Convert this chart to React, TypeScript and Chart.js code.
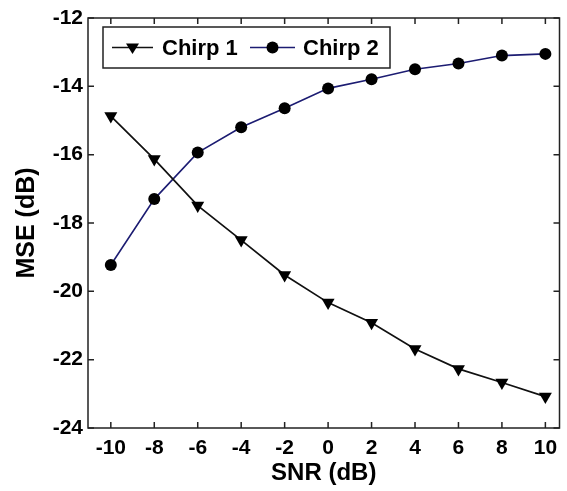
import React, { useEffect, useRef } from "react";
import { Chart, registerables } from "chart.js";

Chart.register(...registerables);

const SNR = [-10, -8, -6, -4, -2, 0, 2, 4, 6, 8, 10];
const CHIRP1 = [-14.87, -16.13, -17.49, -18.5, -19.52, -20.33, -20.92, -21.69, -22.27, -22.67, -23.08];
const CHIRP2 = [-19.23, -17.3, -15.94, -15.2, -14.64, -14.06, -13.79, -13.5, -13.33, -13.1, -13.05];
const X_TICKS = [-10, -8, -6, -4, -2, 0, 2, 4, 6, 8, 10];
const Y_TICKS = [-24, -22, -20, -18, -16, -14, -12];
const SERIES_NAMES = ["Chirp 1", "Chirp 2"];
const X_TITLE = "SNR (dB)";
const Y_TITLE = "MSE (dB)";

const FONT = "'Liberation Sans', Arial, sans-serif";
const C1 = "#111111";
const C2 = "#1c1c72";

function drawTri(ctx: CanvasRenderingContext2D, x: number, y: number, r: number) {
  ctx.beginPath();
  ctx.moveTo(x - r, y - r * 0.6);
  ctx.lineTo(x + r, y - r * 0.6);
  ctx.lineTo(x, y + r);
  ctx.closePath();
  ctx.fill();
}

const framePlugin = {
  id: "frame",
  afterDraw(chart: any) {
    const { ctx, chartArea: a, scales } = chart;
    ctx.save();
    ctx.strokeStyle = "#222";
    ctx.lineWidth = 1.5;
    ctx.strokeRect(a.left, a.top, a.right - a.left, a.bottom - a.top);
    const tl = 6;
    ctx.beginPath();
    for (const v of X_TICKS) {
      const px = scales.x.getPixelForValue(v);
      ctx.moveTo(px, a.bottom);
      ctx.lineTo(px, a.bottom - tl);
      ctx.moveTo(px, a.top);
      ctx.lineTo(px, a.top + tl);
    }
    for (const v of Y_TICKS) {
      const py = scales.y.getPixelForValue(v);
      ctx.moveTo(a.left, py);
      ctx.lineTo(a.left + tl, py);
      ctx.moveTo(a.right, py);
      ctx.lineTo(a.right - tl, py);
    }
    ctx.stroke();

    // legend
    const bx = a.left + 15;
    const by = a.top + 9;
    const bw = 287;
    const bh = 41;
    ctx.fillStyle = "#fff";
    ctx.fillRect(bx, by, bw, bh);
    ctx.lineWidth = 1.5;
    ctx.strokeStyle = "#222";
    ctx.strokeRect(bx, by, bw, bh);
    const cy = by + bh / 2;
    ctx.font = `bold 22px ${FONT}`;
    ctx.textBaseline = "middle";
    ctx.textAlign = "left";
    // item 1
    ctx.strokeStyle = C1;
    ctx.lineWidth = 1.5;
    ctx.beginPath();
    ctx.moveTo(bx + 9, cy);
    ctx.lineTo(bx + 50, cy);
    ctx.stroke();
    ctx.fillStyle = "#000";
    drawTri(ctx, bx + 29.5, cy, 6.5);
    ctx.fillText(SERIES_NAMES[0], bx + 59, cy + 1);
    // item 2
    ctx.strokeStyle = C2;
    ctx.beginPath();
    ctx.moveTo(bx + 147, cy);
    ctx.lineTo(bx + 192, cy);
    ctx.stroke();
    ctx.fillStyle = "#000";
    ctx.beginPath();
    ctx.arc(bx + 169.5, cy, 6, 0, Math.PI * 2);
    ctx.fill();
    ctx.fillText(SERIES_NAMES[1], bx + 200, cy + 1);
    ctx.restore();
  },
};

export default function App() {
  const ref = useRef<HTMLCanvasElement>(null);
  useEffect(() => {
    if (!ref.current) return;
    const chart = new Chart(ref.current, {
      type: "line",
      data: {
        datasets: [
          {
            label: SERIES_NAMES[0],
            data: SNR.map((x, i) => ({ x, y: CHIRP1[i] })),
            borderColor: C1,
            backgroundColor: "#000",
            borderWidth: 1.7,
            pointStyle: "triangle",
            rotation: 180,
            pointRadius: 7.5,
            pointBorderWidth: 0,
            pointBackgroundColor: "#000",
            tension: 0,
          },
          {
            label: SERIES_NAMES[1],
            data: SNR.map((x, i) => ({ x, y: CHIRP2[i] })),
            borderColor: C2,
            backgroundColor: "#000",
            borderWidth: 1.6,
            pointStyle: "circle",
            pointRadius: 6,
            pointBorderWidth: 0,
            pointBackgroundColor: "#000",
            tension: 0,
          },
        ],
      },
      options: {
        responsive: false,
        animation: false,
        layout: { padding: { top: 18, right: 1, left: 0, bottom: 0 } },
        plugins: { legend: { display: false }, tooltip: { enabled: false } },
        scales: {
          x: {
            type: "linear",
            min: -11.05,
            max: 10.65,
            afterBuildTicks: (s: any) => {
              s.ticks = X_TICKS.map((v) => ({ value: v }));
            },
            afterFit: (s: any) => {
              s.height = 63;
            },
            grid: { display: false, drawTicks: false },
            border: { display: false },
            ticks: {
              padding: 8,
              color: "#000",
              font: { family: FONT, weight: "bold", size: 21 },
              maxRotation: 0,
              autoSkip: false,
            },
            title: {
              display: true,
              text: X_TITLE,
              color: "#000",
              font: { family: FONT, weight: "bold", size: 24 },
              padding: { top: 0, bottom: 3 },
            },
          },
          y: {
            type: "linear",
            min: -24,
            max: -12,
            afterBuildTicks: (s: any) => {
              s.ticks = Y_TICKS.map((v) => ({ value: v }));
            },
            afterFit: (s: any) => {
              s.width = 88;
            },
            grid: { display: false, drawTicks: false },
            border: { display: false },
            ticks: {
              padding: 5,
              color: "#000",
              font: { family: FONT, weight: "bold", size: 21 },
              autoSkip: false,
            },
            title: {
              display: true,
              text: Y_TITLE,
              color: "#000",
              font: { family: FONT, weight: "bold", size: 25 },
              padding: { top: 12, bottom: 0 },
            },
          },
        },
      },
      plugins: [framePlugin],
    } as any);
    return () => chart.destroy();
  }, []);
  return (
    <div style={{ position: "absolute", left: 0, top: 0, width: 567, height: 491, background: "#fff" }}>
      <canvas ref={ref} width={567} height={491} />
    </div>
  );
}
